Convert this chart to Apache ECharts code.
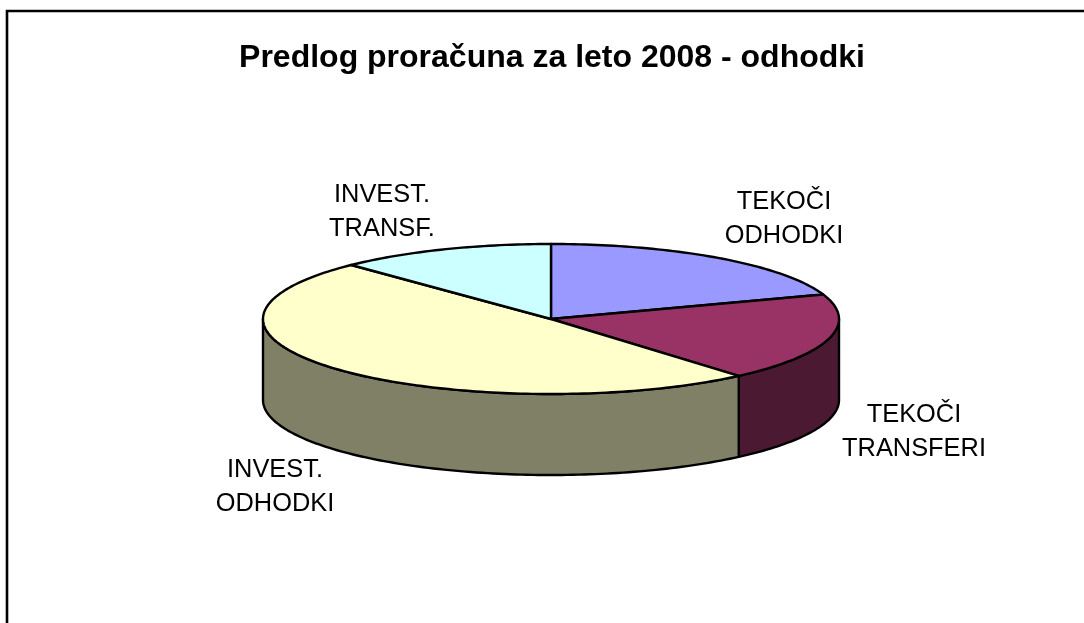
<!DOCTYPE html>
<html>
<head>
<meta charset="utf-8">
<script src="https://cdn.jsdelivr.net/npm/echarts@6/dist/echarts.min.js"></script>
<style>
html,body{margin:0;padding:0;background:#fff;}
#main{width:1084px;height:623px;}
</style>
</head>
<body>
<div id="main"></div>
<script>
// odhodki, shares (percent)
var categories = ['TEKOČI\nODHODKI', 'TEKOČI\nTRANSFERI', 'INVEST.\nODHODKI', 'INVEST.\nTRANSF.'];
var shares = [19.7, 19.0, 49.1, 12.2];
var topColors = ['#9999ff', '#993366', '#ffffcc', '#ccffff'];
var sideColors = ['#4c4c80', '#4c1933', '#808066', '#668080'];
var labelPos = [[784, 219], [914, 432], [275, 487], [382, 212]];

// flattened pie geometry
var cx = 551, cy = 319, rx = 288, ry = 75, depth = 81;
var total = shares.reduce(function (a, b) { return a + b; }, 0);

function pt(a, dy) {
    // a = clockwise from 12 o'clock
    return [cx + rx * Math.sin(a), cy - ry * Math.cos(a) + (dy || 0)];
}
function arc(a0, a1, dy) {
    var n = Math.max(2, Math.ceil(Math.abs(a1 - a0) / 0.02));
    var out = [];
    for (var i = 0; i <= n; i++) {
        out.push(pt(a0 + (a1 - a0) * i / n, dy));
    }
    return out;
}

var lineStyle = { stroke: '#000', lineWidth: 2.4, lineJoin: 'round' };

function renderSlice(params, api) {
    var i = params.dataIndex;
    var start = api.value(1) / total * 2 * Math.PI;
    var end = api.value(2) / total * 2 * Math.PI;
    var children = [];
    // visible wall is the part of the rim between 90 and 270 deg
    var s0 = Math.max(start, Math.PI / 2), s1 = Math.min(end, Math.PI * 1.5);
    if (s1 > s0) {
        var wall = arc(s0, s1, 0).concat(arc(s1, s0, depth));
        children.push({
            type: 'polygon',
            shape: { points: wall },
            style: Object.assign({ fill: sideColors[i] }, lineStyle)
        });
    }
    var top = [[cx, cy]].concat(arc(start, end, 0));
    children.push({
        type: 'polygon',
        z2: 5,
        shape: { points: top },
        style: Object.assign({ fill: topColors[i] }, lineStyle)
    });
    return { type: 'group', children: children };
}

// cumulative start/end for each slice
var rows = [];
var acc = 0;
shares.forEach(function (v, i) {
    rows.push([v, acc, acc + v, i]);
    acc += v;
});

var chart = echarts.init(document.getElementById('main'), null, { renderer: 'canvas' });
var option = {
    animation: false,
    backgroundColor: '#fff',
    title: {
        text: 'Predlog proračuna za leto 2008 - odhodki',
        left: 547,
        top: 37,
        textAlign: 'center',
        textStyle: { fontFamily: 'Liberation Sans', fontSize: 32, fontWeight: 'bold', color: '#000' }
    },
    graphic: [{
        type: 'polyline',
        shape: { points: [[7, 623], [7, 11], [1084, 11]] },
        style: { stroke: '#000', lineWidth: 2.6, fill: null }
    }].concat(categories.map(function (c, i) {
        return {
            type: 'text',
            x: labelPos[i][0],
            y: labelPos[i][1],
            style: {
                text: c,
                fill: '#000',
                font: '25.4px "Liberation Sans"',
                align: 'center',
                verticalAlign: 'middle',
                lineHeight: 34
            }
        };
    })),
    series: [{
        type: 'custom',
        coordinateSystem: 'none',
        silent: true,
        renderItem: renderSlice,
        data: rows
    }]
};
chart.setOption(option);
</script>
</body>
</html>
